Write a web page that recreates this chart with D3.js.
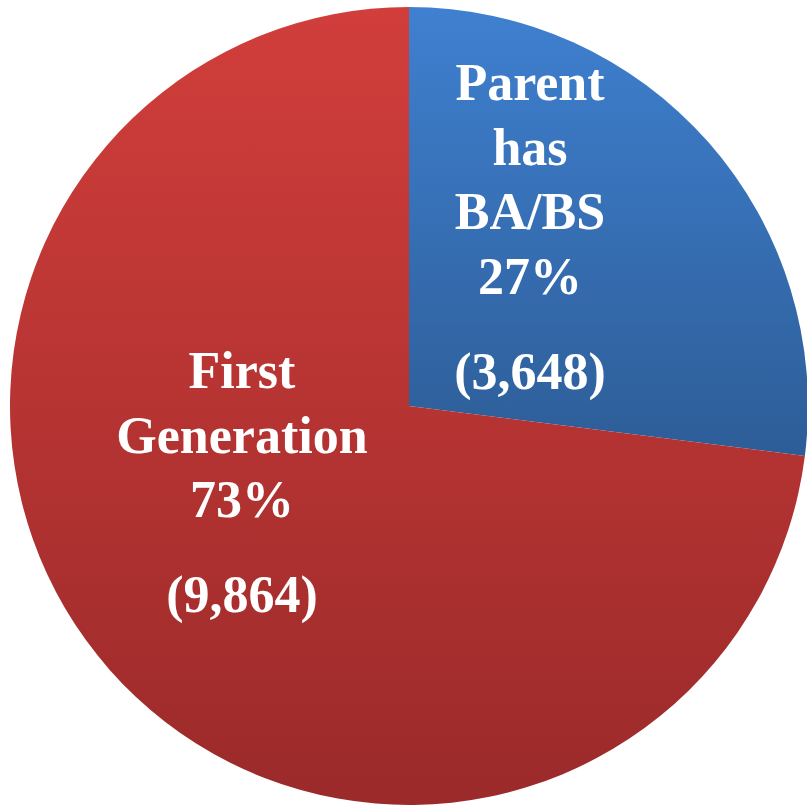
<!DOCTYPE html>
<html>
<head>
<meta charset="utf-8">
<script src="https://cdn.jsdelivr.net/npm/d3@7"></script>
<style>
html,body{margin:0;padding:0;background:#fff;}
svg{display:block;}
</style>
</head>
<body>
<svg id="chart" width="807" height="808"></svg>
<script>
// Data
const categories = ["Parent has BA/BS", "First Generation"];
const counts = [3648, 9864];
const percents = ["27%", "73%"];
const countLabels = ["(3,648)", "(9,864)"];
const labelLines = [["Parent", "has", "BA/BS"], ["First", "Generation"]];
const topColors = ["#3f80d0", "#d13e3b"];
const bottomColors = ["#2d5d97", "#9b2a2a"];

const svg = d3.select("#chart");
const cx = 409, cy = 406, R = 399;

const defs = svg.append("defs");
categories.forEach((c, i) => {
  const g = defs.append("linearGradient").attr("id", "grad" + i)
    .attr("x1", 0).attr("y1", 0).attr("x2", 0).attr("y2", 1);
  g.append("stop").attr("offset", "0%").attr("stop-color", topColors[i]);
  g.append("stop").attr("offset", "100%").attr("stop-color", bottomColors[i]);
});

const data = categories.map((c, i) => ({name: c, value: counts[i], i}));
const pie = d3.pie().sort(null).value(d => d.value).startAngle(0).endAngle(2 * Math.PI);
const arc = d3.arc().innerRadius(0).outerRadius(R);

const g = svg.append("g").attr("transform", `translate(${cx},${cy})`);
g.selectAll("path.slice").data(pie(data)).enter().append("path")
  .attr("class", "slice")
  .attr("d", arc)
  .attr("fill", d => `url(#grad${d.data.i})`);

// Labels
const labelPos = [{x: 530, y: 100}, {x: 242, y: 388}];
const lineH = 64.5;
const countGap = 95;
const font = "'Liberation Serif','Times New Roman',serif";

data.forEach((d, i) => {
  const lines = labelLines[i].concat([percents[i]]);
  const t = svg.append("g");
  lines.forEach((ln, k) => {
    t.append("text")
      .attr("x", labelPos[i].x)
      .attr("y", labelPos[i].y + k * lineH)
      .attr("text-anchor", "middle")
      .attr("fill", "#fff")
      .attr("font-family", font)
      .attr("font-weight", "bold")
      .attr("font-size", 52)
      .text(ln);
  });
  t.append("text")
    .attr("x", labelPos[i].x)
    .attr("y", labelPos[i].y + (lines.length - 1) * lineH + countGap)
    .attr("text-anchor", "middle")
    .attr("fill", "#fff")
    .attr("font-family", font)
    .attr("font-weight", "bold")
    .attr("font-size", 52)
    .text(countLabels[i]);
});
</script>
</body>
</html>
